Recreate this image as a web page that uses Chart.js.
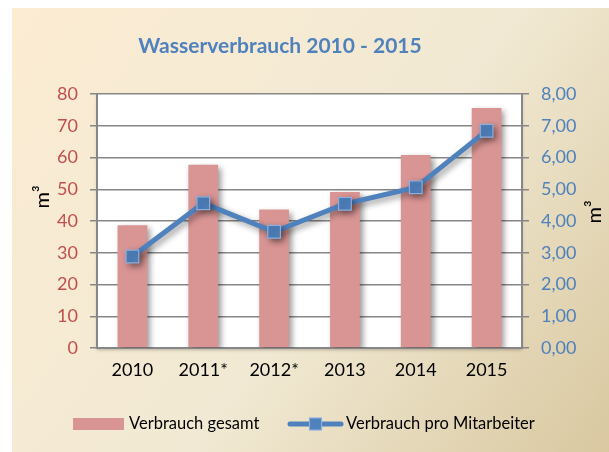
<!DOCTYPE html>
<html>
<head>
<meta charset="utf-8">
<script src="https://cdn.jsdelivr.net/npm/chart.js@4"></script>
<style>
  html, body { margin: 0; padding: 0; background: #fff; }
  #wrap { width: 609px; height: 452px; }
</style>
</head>
<body>
<div id="wrap"><canvas id="waterChart" width="609" height="452"></canvas></div>
<script>
const years = ['2010', '2011*', '2012*', '2013', '2014', '2015'];
const totalUse = [38.7, 57.7, 43.6, 49.1, 60.8, 75.6];
const perEmployee = [2.88, 4.56, 3.66, 4.54, 5.06, 6.84];
const leftTicks = [0, 10, 20, 30, 40, 50, 60, 70, 80];
const rightTicks = [0, 1, 2, 3, 4, 5, 6, 7, 8];

const titleText = 'Wasserverbrauch 2010 - 2015';
const unitText = 'm\u00b3';
const legendBar = 'Verbrauch gesamt';
const legendLine = 'Verbrauch pro Mitarbeiter';

const barColor = '#d99594';
const lineColor = '#4f81bd';
const gridColor = '#878787';

// backdrop, white plot area, title, units and legend
const decorPlugin = {
    id: 'decor',
    beforeDraw(chart) {
        const ctx = chart.ctx;
        const a = chart.chartArea;
        ctx.save();
        ctx.fillStyle = '#ffffff';
        ctx.fillRect(0, 0, chart.width, chart.height);
        const g = ctx.createLinearGradient(12, 8, 609, 452);
        g.addColorStop(0, '#fcecd3');
        g.addColorStop(0.55, '#f1e9d3');
        g.addColorStop(1, '#d9c8a0');
        ctx.fillStyle = g;
        ctx.fillRect(12, 8, chart.width - 12, chart.height - 8);
        ctx.shadowColor = 'rgba(0,0,0,0.25)';
        ctx.shadowBlur = 3;
        ctx.shadowOffsetY = 2;
        ctx.fillStyle = '#ffffff';
        ctx.fillRect(a.left, a.top, a.right - a.left, a.bottom - a.top);
        ctx.restore();
    },
    afterDraw(chart) {
        const ctx = chart.ctx;
        ctx.save();
        ctx.fillStyle = lineColor;
        ctx.font = 'bold 21px Lato';
        ctx.textAlign = 'center';
        ctx.textBaseline = 'middle';
        ctx.fillText(titleText, 280, 46);

        ctx.fillStyle = '#000';
        ctx.font = '20px Lato';
        [[43, 197], [595, 212]].forEach(function (p) {
            ctx.save();
            ctx.translate(p[0], p[1]);
            ctx.rotate(-Math.PI / 2);
            ctx.fillText(unitText, 0, 0);
            ctx.restore();
        });

        // legend
        ctx.fillStyle = barColor;
        ctx.fillRect(73, 418, 51, 12);
        ctx.fillStyle = '#000';
        ctx.font = '16.5px Lato';
        ctx.textAlign = 'left';
        ctx.fillText(legendBar, 129, 424);

        ctx.strokeStyle = lineColor;
        ctx.lineWidth = 5;
        ctx.lineCap = 'round';
        ctx.beginPath();
        ctx.moveTo(290, 424);
        ctx.lineTo(341, 424);
        ctx.stroke();
        ctx.fillStyle = lineColor;
        ctx.fillRect(309.5, 418, 12, 12);
        ctx.strokeStyle = '#8eaedb';
        ctx.lineWidth = 1.2;
        ctx.strokeRect(309.5, 418, 12, 12);
        ctx.fillStyle = '#000';
        ctx.fillText(legendLine, 346, 424);
        ctx.restore();
    }
};

const shadowPlugin = {
    id: 'shadow',
    beforeDatasetDraw(chart) {
        const ctx = chart.ctx;
        ctx.save();
        ctx.shadowColor = 'rgba(0,0,0,0.4)';
        ctx.shadowBlur = 6;
        ctx.shadowOffsetX = 3;
        ctx.shadowOffsetY = 3;
    },
    afterDatasetDraw(chart) {
        chart.ctx.restore();
    }
};

function decimalDe(v) {
    return v.toFixed(2).replace('.', ',');
}

function build() {
    const ctx = document.getElementById('waterChart').getContext('2d');
    Chart.defaults.font.family = 'Lato';

    new Chart(ctx, {
        type: 'bar',
        data: {
            labels: years,
            datasets: [
                {
                    type: 'line',
                    label: legendLine,
                    data: perEmployee,
                    yAxisID: 'yRight',
                    borderColor: lineColor,
                    borderWidth: 5,
                    tension: 0,
                    pointStyle: 'rect',
                    pointRadius: 9,
                    pointBackgroundColor: lineColor,
                    pointBorderColor: '#8eaedb',
                    pointBorderWidth: 1.2,
                    order: 0
                },
                {
                    label: legendBar,
                    data: totalUse,
                    yAxisID: 'yLeft',
                    backgroundColor: barColor,
                    borderWidth: 0,
                    barPercentage: 0.42,
                    categoryPercentage: 1,
                    order: 1
                }
            ]
        },
        options: {
            responsive: false,
            animation: false,
            layout: { padding: { top: 94, left: 0, right: 0, bottom: 0 } },
            plugins: {
                legend: { display: false },
                title: { display: false },
                tooltip: { enabled: false }
            },
            scales: {
                x: {
                    grid: { display: false, drawTicks: false },
                    border: { display: true, color: gridColor, width: 2 },
                    ticks: { color: '#000', font: { size: 18 }, padding: 11 },
                    afterFit(scale) { scale.height = 104; }
                },
                yLeft: {
                    position: 'left',
                    min: 0,
                    max: 80,
                    afterBuildTicks(scale) { scale.ticks = leftTicks.map(v => ({ value: v })); },
                    ticks: { color: '#c0504d', font: { size: 18 }, padding: 12 },
                    grid: { color: gridColor, lineWidth: 1.5, tickLength: 7 },
                    border: { display: true, color: gridColor, width: 2 },
                    afterFit(scale) { scale.width = 97; }
                },
                yRight: {
                    position: 'right',
                    min: 0,
                    max: 8,
                    afterBuildTicks(scale) { scale.ticks = rightTicks.map(v => ({ value: v })); },
                    ticks: {
                        color: lineColor,
                        font: { size: 18 },
                        padding: 12,
                        callback: function (val) { return decimalDe(val); }
                    },
                    grid: { drawOnChartArea: false, color: gridColor, lineWidth: 1.5, tickLength: 7 },
                    border: { display: true, color: gridColor, width: 2 },
                    afterFit(scale) { scale.width = 87; }
                }
            }
        },
        plugins: [decorPlugin, shadowPlugin]
    });
}

if (document.fonts && document.fonts.load) {
    Promise.all([
        document.fonts.load('18px Lato'),
        document.fonts.load('bold 21px Lato')
    ]).then(build, build);
} else {
    build();
}
</script>
</body>
</html>
